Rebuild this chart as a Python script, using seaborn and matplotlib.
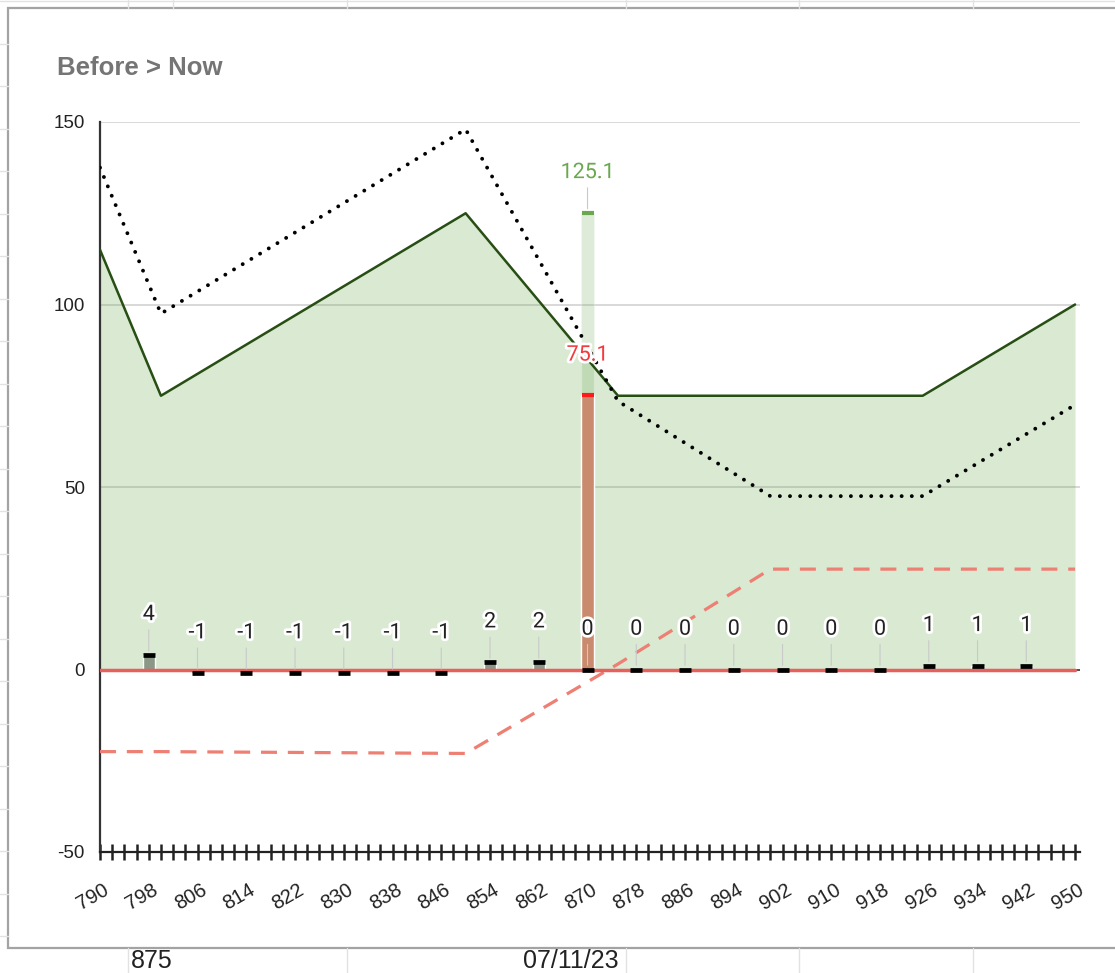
import matplotlib
matplotlib.use("Agg")
import matplotlib.pyplot as plt
import seaborn as sns
import numpy as np
import pandas as pd
from matplotlib import patheffects as pe
from matplotlib.transforms import ScaledTranslation
from matplotlib.patches import Rectangle

# ---------------- data ----------------
price_points = [790, 800, 850, 875, 900, 925, 950]
now_values = [115, 75, 125, 75, 75, 75, 100]
before_values = [137.5, 97.5, 148, 73.5, 47.5, 47.5, 72.5]
change_values = [-22.5, -22.5, -23, 1.5, 27.5, 27.5, 27.5]
zero_x = [790, 950]
zero_values = [0, 0]

strikes = [798, 806, 814, 822, 830, 838, 846, 854, 862, 870,
           878, 886, 894, 902, 910, 918, 926, 934, 942]
strike_values = [4, -1, -1, -1, -1, -1, -1, 2, 2, 0,
                 0, 0, 0, 0, 0, 0, 1, 1, 1]

current_strike = 870
now_price = 125.1
before_price = 75.1

x_tick_labels = ["790", "798", "806", "814", "822", "830", "838", "846", "854",
                 "862", "870", "878", "886", "894", "902", "910", "918", "926",
                 "934", "942", "950"]
y_ticks = [-50, 0, 50, 100, 150]
title = "Before > Now"
sheet_cells = ["875", "07/11/23"]

# ---------------- style ----------------
sns.set_theme(style="white")
plt.rcParams["font.family"] = ["Liberation Sans", "DejaVu Sans"]
plt.rcParams["axes.unicode_minus"] = False

W, H = 1115, 973
fig = plt.figure(figsize=(W / 100, H / 100), dpi=100)
fig.patch.set_facecolor("white")

# spreadsheet backdrop (cell grid + chart frame)
bg = fig.add_axes([0, 0, 1, 1])
bg.set_xlim(0, W)
bg.set_ylim(H, 0)
bg.axis("off")
cell_col = "#e2e2e2"
for xv in [128, 173, 347, 626, 799, 973]:
    bg.plot([xv, xv], [0, 8], color=cell_col, lw=1)
for xv in [128, 347, 626, 799, 973]:
    bg.plot([xv, xv], [948, H], color=cell_col, lw=1)
bg.plot([0, W], [1, 1], color=cell_col, lw=1)
for yv in np.arange(43.5, 948, 42.5):
    bg.plot([0, 8], [yv, yv], color=cell_col, lw=1)
bg.add_patch(Rectangle((8, 8), W + 20, 940, fill=True, facecolor="white",
                       edgecolor="#a3a3a3", lw=1.6))
bg.text(131, 961, sheet_cells[0], ha="left", va="center", fontsize=18, color="#222222")
bg.text(619, 961, sheet_cells[1], ha="right", va="center", fontsize=18, color="#222222")

fig.text(57 / W, 1 - 68 / H, title, ha="left", va="center", fontsize=18.5,
         fontweight="bold", color="#757575")

# ---------------- main chart ----------------
ax = fig.add_axes([100 / W, 1 - 852 / H, 980 / W, 730 / H])
ax.set_facecolor("none")
ax.set_xlim(790, 790 + 980 / 6.094)
ax.set_ylim(-50, 150)

# grid
ax.set_yticks(y_ticks)
ax.yaxis.grid(True, color="#d6d6d6", lw=1.3, zorder=0)
ax.set_axisbelow(True)
ax.axhline(0, color="#444444", lw=1.3, zorder=1.2)

# area (Now)
ax.fill_between(price_points, now_values, 0, color="#6aa84f", alpha=0.25, lw=0, zorder=1)

# big bar at current strike
ax.bar([current_strike], [now_price], width=2, color="#6aa84f", alpha=0.22, zorder=2)
ax.bar([current_strike], [before_price], width=2, color="#c98a6e", zorder=2.1)

# small bars
ax.bar(strikes, strike_values, width=2, color="#8c9887", zorder=2)

# lines
df = pd.DataFrame({"x": price_points, "now": now_values, "before": before_values,
                   "change": change_values})
sns.lineplot(data=df, x="x", y="now", ax=ax, color="#274e13", lw=1.8, zorder=3)
sns.lineplot(data=df, x="x", y="before", ax=ax, color="black", lw=2.8,
             linestyle=(0, (0.01, 2.6)), dash_capstyle="round", zorder=3)
sns.lineplot(data=df, x="x", y="change", ax=ax, color="#ee7f73", lw=2.3,
             linestyle=(0, (5, 3.4)), zorder=3)
sns.lineplot(x=zero_x, y=zero_values, ax=ax, color="#e8605b", lw=2.5, zorder=3.2)

# markers at the values
ax.plot(strikes, strike_values, ls="none", marker="_", ms=9, mew=3.4,
        color="black", zorder=4)
ax.plot([current_strike], [now_price], ls="none", marker="_", ms=9, mew=3,
        color="#6aa84f", zorder=4)
ax.plot([current_strike], [before_price], ls="none", marker="_", ms=9, mew=3,
        color="#ff1a1a", zorder=4)

halo = [pe.withStroke(linewidth=4, foreground="white")]
lead = dict(arrowstyle="-", color="#c9c9c9", lw=0.8, shrinkA=1, shrinkB=3)
for xv, v in zip(strikes, strike_values):
    ax.annotate(str(v), xy=(xv, v), xytext=(0, 29), textcoords="offset points",
                ha="center", va="center", fontsize=15.5, family=["Roboto", "DejaVu Sans"],
                color="#222222", path_effects=halo, arrowprops=lead, zorder=5)
ax.annotate(f"{now_price}", xy=(current_strike, now_price), xytext=(0, 29),
            textcoords="offset points", ha="center", va="center", fontsize=15.5,
            family=["Roboto", "DejaVu Sans"], color="#6aa84f", path_effects=halo,
            arrowprops=lead, zorder=5)
ax.annotate(f"{before_price}", xy=(current_strike, before_price), xytext=(0, 29),
            textcoords="offset points", ha="center", va="center", fontsize=15.5,
            family=["Roboto", "DejaVu Sans"], color="#f23a3f", path_effects=halo,
            zorder=5)

# spines
for s in ["top", "right"]:
    ax.spines[s].set_visible(False)
ax.spines["left"].set_color("#333333")
ax.spines["left"].set_linewidth(1.6)
ax.spines["bottom"].set_color("#222222")
ax.spines["bottom"].set_linewidth(1.6)

# ticks
ax.set_xticks([int(s) for s in x_tick_labels])
ax.set_xticks(np.arange(790, 951, 2), minor=True)
ax.set_xticklabels(x_tick_labels)
ax.tick_params(axis="x", which="both", direction="inout", length=11, width=1.8,
               color="#222222", bottom=True)
ax.tick_params(axis="x", which="major", labelsize=14.5, pad=27, labelcolor="#222222")
ax.tick_params(axis="y", length=0, pad=11, labelsize=13.5, labelcolor="#222222")
ax.set_xlabel("")
ax.set_ylabel("")

offset = ScaledTranslation(-7 / 100, 0, fig.dpi_scale_trans)
for lbl in ax.get_xticklabels():
    lbl.set_rotation(30)
    lbl.set_ha("center")
    lbl.set_va("center")
    lbl.set_rotation_mode("anchor")
    lbl.set_transform(lbl.get_transform() + offset)

fig.savefig("out.png", dpi=100, facecolor="white")
